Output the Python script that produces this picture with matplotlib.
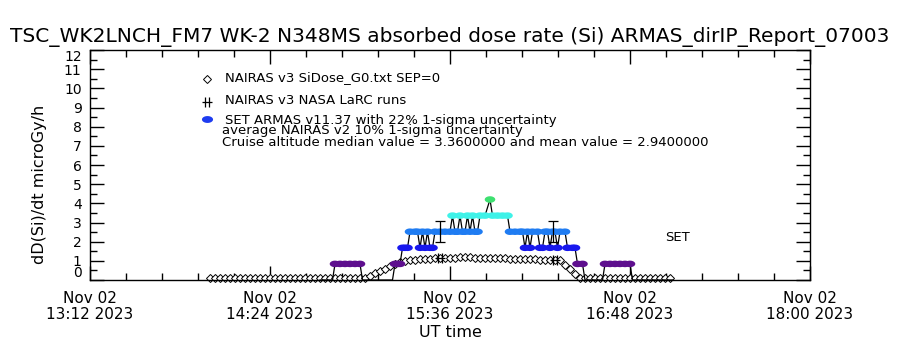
import numpy as np
import pandas as pd
import matplotlib
matplotlib.use("Agg")
import matplotlib.pyplot as plt
import matplotlib.dates as mdates
from matplotlib.path import Path
from matplotlib.ticker import AutoMinorLocator

day = "2023-11-02 "

# NAIRAS v3 SiDose_G0 model, one value every 2 minutes from 14:00
nairas_start = "14:00"
nairas_dose = [
    0.10, 0.10, 0.10, 0.10, 0.10, 0.10, 0.10, 0.10, 0.10, 0.10,
    0.10, 0.10, 0.10, 0.10, 0.10, 0.10, 0.10, 0.10, 0.10, 0.10,
    0.10, 0.10, 0.10, 0.10, 0.10, 0.10, 0.10, 0.10, 0.10, 0.10,
    0.10, 0.12, 0.22, 0.35, 0.48, 0.60, 0.72, 0.82, 0.92, 0.98,
    1.03, 1.06, 1.08, 1.10, 1.12, 1.13, 1.15, 1.15, 1.16, 1.17,
    1.18, 1.18, 1.18, 1.17, 1.17, 1.16, 1.15, 1.15, 1.14, 1.13,
    1.12, 1.11, 1.10, 1.09, 1.08, 1.07, 1.06, 1.05, 1.04, 1.03,
    1.02, 0.80, 0.55, 0.30, 0.12, 0.10, 0.10, 0.10, 0.10, 0.10,
    0.10, 0.10, 0.10, 0.10, 0.10, 0.10, 0.10, 0.10, 0.10, 0.10,
    0.10, 0.10, 0.10,
]

# NAIRAS v3 NASA LaRC runs
larc_time = ["15:32", "16:18"]
larc_dose = [1.15, 1.05]

# SET ARMAS v11.37 measurements
armas_time = [
    "14:44", "14:49", "14:50", "14:52", "14:54", "14:56", "14:58", "15:00",
    "15:01", "15:05", "15:09", "15:13", "15:14", "15:15", "15:16", "15:17",
    "15:18", "15:19", "15:20", "15:22", "15:23", "15:24", "15:25", "15:26",
    "15:27", "15:28", "15:29", "15:30", "15:32", "15:34", "15:36", "15:37",
    "15:38", "15:39", "15:40", "15:41", "15:42", "15:43", "15:44", "15:45",
    "15:46", "15:47", "15:48", "15:50", "15:52", "15:53", "15:55", "15:57",
    "15:59", "16:00", "16:02", "16:04", "16:05", "16:06", "16:07", "16:08",
    "16:09", "16:11", "16:12", "16:13", "16:14", "16:15", "16:16", "16:17",
    "16:18", "16:19", "16:20", "16:22", "16:23", "16:25", "16:26", "16:27",
    "16:29", "16:30", "16:34", "16:37", "16:38", "16:40", "16:42", "16:44",
    "16:46", "16:48", "16:49", "16:53", "16:57", "17:01", "17:05",
]
armas_dose = [
    0.00, 0.00, 0.84, 0.84, 0.84, 0.84, 0.84, 0.84,
    0.00, 0.00, 0.00, 0.00, 0.84, 0.84, 0.84, 1.68,
    1.68, 1.68, 2.52, 2.52, 2.52, 1.68, 2.52, 1.68,
    2.52, 1.68, 1.68, 2.52, 2.52, 2.52, 2.52, 3.36,
    2.52, 2.52, 3.36, 2.52, 2.52, 3.36, 2.52, 3.36,
    2.52, 2.52, 3.36, 3.36, 4.20, 3.36, 3.36, 3.36,
    3.36, 2.52, 2.52, 2.52, 2.52, 1.68, 2.52, 1.68,
    2.52, 2.52, 1.68, 1.68, 2.52, 2.52, 1.68, 2.52,
    2.52, 1.68, 2.52, 2.52, 1.68, 1.68, 1.68, 0.84,
    0.84, 0.00, 0.00, 0.00, 0.84, 0.84, 0.84, 0.84,
    0.84, 0.84, 0.00, 0.00, 0.00, 0.00, 0.00,
]
errbar_time = ["15:32", "16:17"]
errbar_dose = [2.52, 2.52]
sigma_frac = 0.22

level_colors = {0.00: "none", 0.84: "#5e0f8e", 1.68: "#1818ee",
                2.52: "#1f7cf2", 3.36: "#3ef2e8", 4.20: "#3ee070"}

xticks = ["13:12", "14:24", "15:36", "16:48", "18:00"]
yticks = list(range(13))

title = "TSC_WK2LNCH_FM7 WK-2 N348MS absorbed dose rate (Si) ARMAS_dirIP_Report_07003"
notes = ["NAIRAS v3 SiDose_G0.txt SEP=0",
         "NAIRAS v3 NASA LaRC runs",
         "SET ARMAS v11.37 with 22% 1-sigma uncertainty",
         "average NAIRAS v2 10% 1-sigma uncertainty",
         "Cruise altitude median value = 3.3600000 and mean value = 2.9400000"]


def clock(ts):
    return pd.to_datetime([day + t for t in ts])


nairas_t = pd.date_range(day + nairas_start, periods=len(nairas_dose), freq="2min")
armas_t = clock(armas_time)

# wide ellipse marker like the IDL plot symbol
th = np.linspace(0, 2 * np.pi, 40)
ellipse = Path(np.column_stack([np.cos(th), 0.62 * np.sin(th)]), closed=True)
dblplus = Path([(-0.35, -1), (-0.35, 1), (0.35, -1), (0.35, 1), (-1, 0), (1, 0)],
               [Path.MOVETO, Path.LINETO, Path.MOVETO, Path.LINETO, Path.MOVETO, Path.LINETO])

plt.rcParams['font.family'] = 'DejaVu Sans'
fig = plt.figure(figsize=(9, 3.5), dpi=100)
ax = fig.add_axes([0.1, 0.2, 0.8, 0.657])

ax.plot(nairas_t, nairas_dose, ls="none", marker="D", ms=4, mfc="white",
        mec="black", mew=0.7, zorder=2, clip_on=False)
ax.plot(armas_t, armas_dose, color="black", lw=0.9, zorder=3)
cols = [level_colors[v] for v in armas_dose]
ax.scatter(armas_t, armas_dose, c=cols, marker=ellipse, s=58, lw=0, zorder=4,
           clip_on=False)
ax.errorbar(clock(errbar_time), errbar_dose,
            yerr=[v * sigma_frac for v in errbar_dose], fmt="none",
            ecolor="black", elinewidth=0.9, capsize=3.5, capthick=0.9, zorder=5)
ax.plot(clock(larc_time), larc_dose, ls="none", marker=dblplus, ms=7,
        mec="black", mew=0.9, zorder=5)

ax.set_xlim(clock(["13:12"])[0], clock(["18:00"])[0])
ax.set_ylim(0, 12)
ax.set_xticks(clock(xticks))
ax.set_yticks(yticks)
ax.xaxis.set_major_formatter(mdates.DateFormatter("%b %d\n%H:%M %Y"))
ax.xaxis.set_minor_locator(AutoMinorLocator(5))
ax.yaxis.set_minor_locator(AutoMinorLocator(2))
ax.tick_params(which="both", direction="in", top=True, right=True,
               width=1, color="black")
ax.tick_params(axis="x", labelsize=11, pad=8)
ax.tick_params(axis="y", labelsize=10, pad=6)
ax.tick_params(which="major", length=10)
ax.tick_params(which="minor", length=5)
for lab in ax.get_xticklabels():
    lab.set_linespacing(1.1)
# end labels sit inside the axis range, as in the IDL plot
ylabs = ax.get_yticklabels()
ylabs[0].set_va("bottom")
ylabs[-1].set_va("top")
for s in ax.spines.values():
    s.set_linewidth(1)

fig.text(0.5, 0.894, title, ha="center", va="center", fontsize=14.5)
fig.text(0.5, 0.049, "UT time", ha="center", va="center", fontsize=11.5)
fig.text(0.044, 0.474, "dD(Si)/dt microGy/h", ha="center", va="center",
         rotation=90, fontsize=11.5)


def ax_xy(px, py):
    return (px - 90) / 720, (280 - py) / 230


note_py = [77, 100, 120, 130, 142]
note_px = [225, 225, 225, 222, 222]
for txt, px, py in zip(notes, note_px, note_py):
    ax.text(*ax_xy(px, py), txt, transform=ax.transAxes, fontsize=9.5,
            va="center", ha="left")
ax.plot(*ax_xy(207, 79), transform=ax.transAxes, marker="D", ms=4,
        mfc="white", mec="black", mew=0.7, clip_on=False)
ax.plot(*ax_xy(207, 102), transform=ax.transAxes, marker=dblplus, ms=7,
        mec="black", mew=0.9, clip_on=False)
ax.plot(*ax_xy(207, 119), transform=ax.transAxes, marker=ellipse, ms=8,
        mfc="#1e3cf0", mec="#1e3cf0", mew=0, clip_on=False)
ax.text(*ax_xy(678, 237), "SET", transform=ax.transAxes, fontsize=9.5,
        va="center", ha="center")

fig.savefig("out.png", dpi=100)
